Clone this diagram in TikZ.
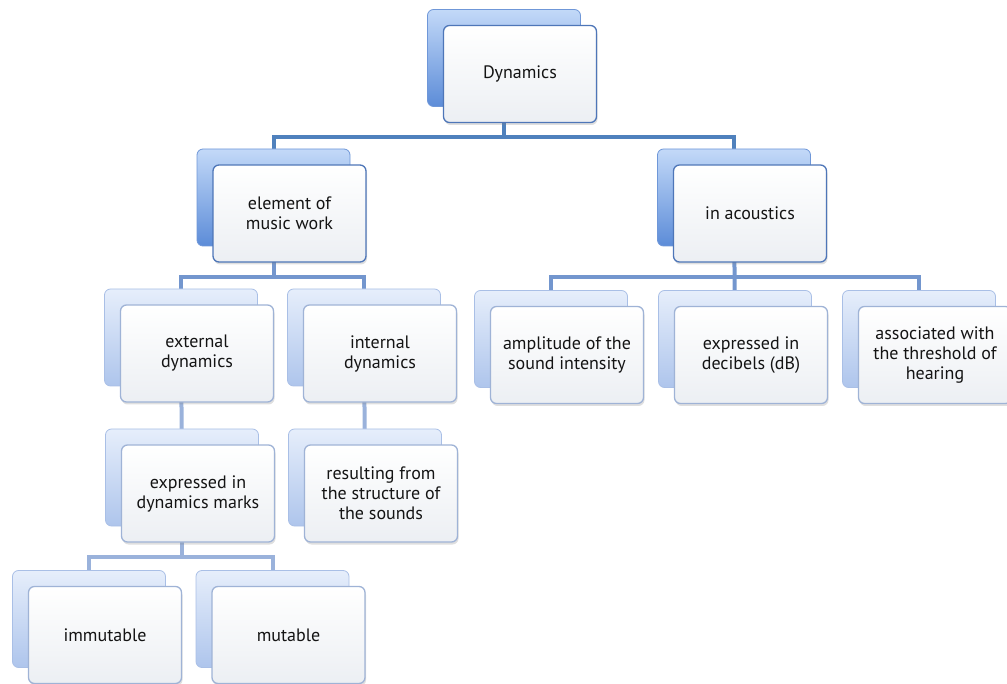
\documentclass[tikz,border=0pt]{standalone}
\usepackage{fontspec}
\setmainfont{PT Sans}
\usetikzlibrary{shadows}
\pgfdeclarelayer{background}
\pgfsetlayers{background,main}
\definecolor{busA}{HTML}{4F81BD}
\definecolor{busB}{HTML}{7396CE}
\definecolor{busC}{HTML}{9AB2DB}
\definecolor{darkTop}{HTML}{C3D9F8}
\definecolor{darkBot}{HTML}{5C8CD8}
\definecolor{darkEdge}{HTML}{6F97D8}
\definecolor{lightTop}{HTML}{E6EEFB}
\definecolor{lightBot}{HTML}{AEC5EC}
\definecolor{lightEdge}{HTML}{A9BFE6}
\definecolor{frontBot}{HTML}{ECEFF3}
\definecolor{frontEdgeA}{HTML}{4E76B8}
\definecolor{frontEdgeB}{HTML}{9FB3D6}
\begin{document}
\begin{tikzpicture}[x=1pt,y=-1pt,
  boxbase/.style={rectangle, rounded corners=6pt, minimum width=153pt, minimum height=97pt, inner sep=0pt},
  backA/.style={boxbase, top color=darkTop, bottom color=darkBot, draw=darkEdge, line width=0.8pt},
  backB/.style={boxbase, top color=lightTop, bottom color=lightBot, draw=lightEdge, line width=0.8pt},
  frontbase/.style={boxbase, top color=white, bottom color=frontBot, line width=1.3pt, align=center,
    font=\fontsize{18}{20}\selectfont, text=black!92,
    drop shadow={opacity=0.25, shadow xshift=1pt, shadow yshift=-2.5pt}},
  frontA/.style={frontbase, draw=frontEdgeA},
  frontB/.style={frontbase, draw=frontEdgeB},
  connA/.style={draw=busA, line width=4pt},
  connB/.style={draw=busB, line width=4pt},
  connC/.style={draw=busC, line width=4pt},
  fshift/.style={shift={(16,16)}}
]
\useasboundingbox (0,0) rectangle (1007,684);

% level 1
\node[backA] (dynb) at (504,58) {};
\node[frontA] (dyn) at ([fshift]dynb.center) {Dynamics};
% level 2
\node[backA] (elemb) at (273.5,197.5) {};
\node[frontA] (elem) at ([fshift]elemb.center) {element of\\music work};
\node[backA] (acoub) at (734,197.5) {};
\node[frontA] (acou) at ([fshift]acoub.center) {in acoustics};
% level 3
\node[backB] (extb) at (181,337.5) {};
\node[frontB] (ext) at ([fshift]extb.center) {external\\dynamics};
\node[backB] (intb) at (364,337.5) {};
\node[frontB] (int) at ([fshift]intb.center) {internal\\dynamics};
\node[backB] (ampb) at (551,339) {};
\node[frontB] (amp) at ([fshift]ampb.center) {amplitude of the\\sound intensity};
\node[backB] (dbb) at (735,339) {};
\node[frontB] (db) at ([fshift]dbb.center) {expressed in\\decibels (dB)};
\node[backB] (assb) at (919,339) {};
\node[frontB] (ass) at ([fshift]assb.center) {associated with\\the threshold of\\hearing};
% level 4
\node[backB] (marksb) at (182,477.5) {};
\node[frontB] (marks) at ([fshift]marksb.center) {expressed in\\dynamics marks};
\node[backB] (resb) at (365,477.5) {};
\node[frontB] (res) at ([fshift]resb.center) {resulting from\\the structure of\\the sounds};
% level 5
\node[backB] (immb) at (89,619) {};
\node[frontB] (imm) at ([fshift]immb.center) {immutable};
\node[backB] (mutb) at (272.5,619) {};
\node[frontB] (mut) at ([fshift]mutb.center) {mutable};

\coordinate (j1) at (504,137);
\coordinate (j2) at (273.5,277);
\coordinate (j3) at (734,277);
\coordinate (j4) at (182,557);

\begin{pgfonlayer}{background}
  \draw[connA] (dynb.center) -- (j1);
  \draw[connA] (elemb.center) |- (j1) -| (acoub.center);
  \draw[connB] (elemb.center) -- (j2);
  \draw[connB] (extb.center) |- (j2) -| (intb.center);
  \draw[connB] (acoub.center) -- (dbb.center);
  \draw[connB] (ampb.center) |- (j3) -| (assb.center);
  \draw[connC] (extb.center) -- (marksb.center);
  \draw[connC] (intb.center) -- (resb.center);
  \draw[connC] (marksb.center) -- (j4);
  \draw[connC] (immb.center) |- (j4) -| (mutb.center);
\end{pgfonlayer}
\end{tikzpicture}
\end{document}
